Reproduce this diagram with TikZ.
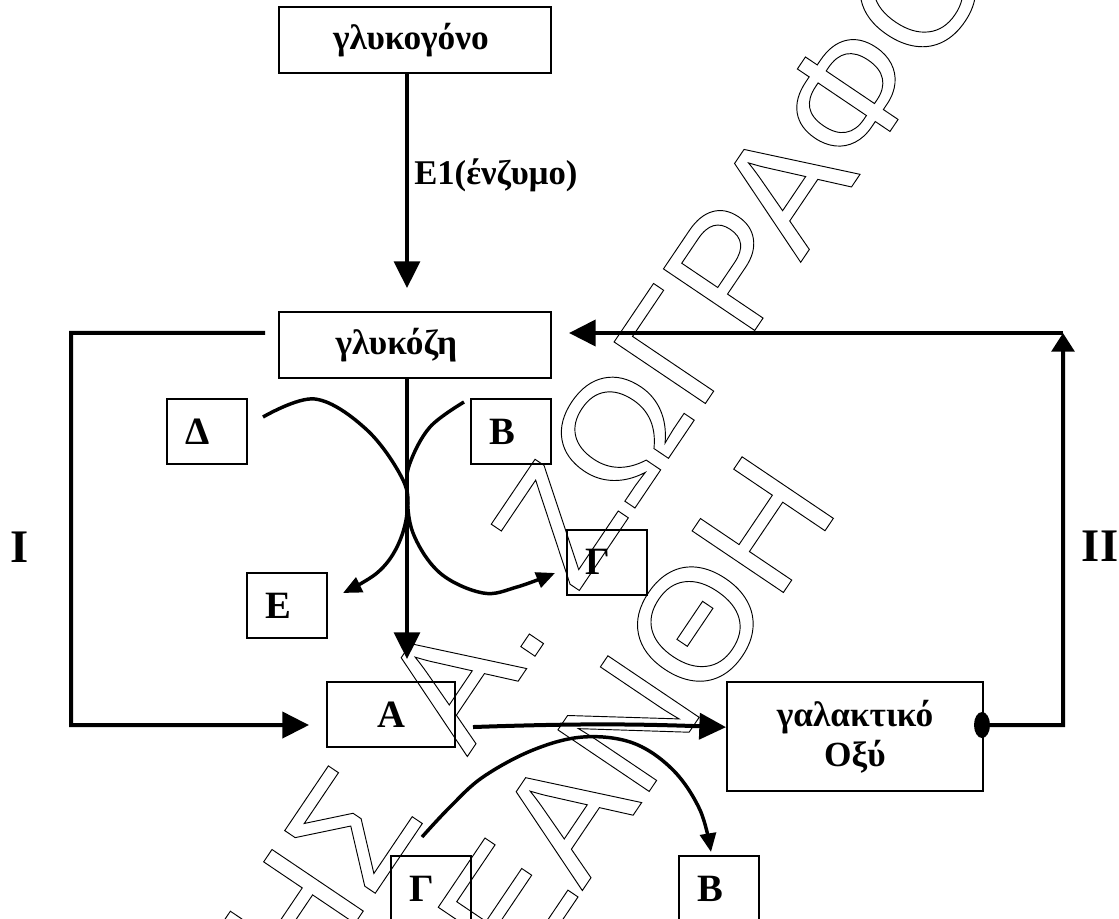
\documentclass[tikz,border=0pt]{standalone}
\usepackage{fontspec}
\setmainfont{Liberation Serif}
\newfontfamily\wmfont{Liberation Sans}
\usetikzlibrary{arrows.meta}
\newcommand\outl[1]{\special{pdf:literal direct 1 Tr 0.7 w}#1\special{pdf:literal direct 0 Tr}}
\tikzset{
  box/.style={draw, line width=1.5pt, inner sep=0pt, align=center,
    font=\bfseries\fontsize{26.5}{30}\selectfont},
  smallbox/.style={box, minimum width=60pt, minimum height=48.75pt,
    font=\bfseries\fontsize{29}{30}\selectfont},
  lbl/.style={inner sep=0pt, font=\bfseries\fontsize{26}{30}\selectfont},
  biglbl/.style={inner sep=0pt, font=\bfseries\fontsize{35}{40}\selectfont},
  wm/.style={inner sep=0pt, font=\wmfont\fontsize{120}{120}\selectfont},
  ln/.style={line width=2.4pt},
  thk/.style={line width=3pt},
  crv/.style={line width=2.6pt},
  bigtip/.tip={Triangle[length=20pt,width=19.5pt]},
  uptip/.tip={Triangle[length=14pt,width=17pt]},
  smalltip/.tip={Triangle[length=14pt,width=12pt]}
}
\begin{document}
\begin{tikzpicture}[x=0.75pt,y=-0.75pt]
\useasboundingbox (0,0) rectangle (1119,919);

% watermark
\node[wm, anchor=base west, rotate=56] (wmA) at (467,757) {\outl{Α. ΖΩΓΡΑΦΟΥ}};
\node[wm, anchor=base east, rotate=56] (wmB) at (426,818) {\outl{ΗΣ}};
\node[wm, anchor=base west, rotate=56] (wmC) at (582,891) {\outl{ΑΝΘΗ}};
\node[wm, anchor=base east, rotate=56] (wmD) at (582,891) {\outl{Ε}};

% boxes
\node[box, minimum width=204pt, minimum height=49.5pt] (gly1) at (415,40) {γλυκογόνο\hspace*{6pt}};
\node[box, minimum width=204pt, minimum height=49.5pt] (gly2) at (415,345) {γλυκόζη\hspace*{28pt}};
\node[smallbox] (D) at (206.5,431.5) {Δ\hspace*{13.5pt}};
\node[smallbox] (B1) at (511,431.5) {Β\hspace*{13.5pt}};
\node[smallbox] (E) at (287,605.5) {Ε\hspace*{13.5pt}};
\node[smallbox] (G1) at (607,562) {Γ\hspace*{13.5pt}};
\node[smallbox, minimum width=96pt] (A) at (391,714.5) {Α};
\node[box, minimum width=192pt, minimum height=81.75pt] (gal) at (855,736.5) {γαλακτικό\\Οξύ};
\node[smallbox] (G2) at (431,888.5) {Γ\hspace*{13.5pt}};
\node[smallbox] (B2) at (719,888.5) {Β\hspace*{13.5pt}};

% labels
\node[lbl, anchor=west] (enz) at (414,175) {Ε1(ένζυμο)};
\node[biglbl] (I) at (20,547) {I};
\node[biglbl] (II) at (1100,546) {II};

% main vertical arrows
\draw[ln, -{bigtip}] ([xshift=-6pt]gly1.south) -- ([xshift=-6pt,yshift=17.25pt]gly2.north);
\draw[ln, -{bigtip}] ([xshift=-6pt]gly2.south) -- ([xshift=12pt,yshift=16.5pt]A.north);

% left route I
\coordinate (L0) at (265,333);
\draw[thk, -{bigtip}] (L0) -- (71,333) -- (71,725) -- ([xshift=-12.75pt,yshift=-7.9pt]A.west);

% right route II
\fill (982,725) ellipse [x radius=6pt, y radius=9.75pt];
\draw[thk, -{uptip}] ([yshift=8.6pt]gal.east) -- (1063,725) -- (1063,333);
\coordinate (R0) at (1063,333);
\draw[thk, -{bigtip}] (R0) -- ([xshift=12.75pt,yshift=9pt]gly2.east);

% A -> galaktiko
\draw[thk, -{bigtip}] ([xshift=12.75pt,yshift=-9.4pt]A.east) to[bend left=2] ([yshift=7pt]gal.west);

% curved reaction arrows
\draw[crv, -{smalltip}] plot[smooth, tension=0.6] coordinates {(263,417) (315,399) (367,430) (403,480) (407,513) (397,547) (377,573) (343,593)};
\draw[crv, -{smalltip}] plot[smooth, tension=0.6] coordinates {(464,402) (430,427) (410,463) (407,490) (413,533) (440,573) (483,593) (517,587) (555,573)};
\draw[crv, -{smalltip}] plot[smooth, tension=0.6] coordinates {(422,837) (450,807) (483,777) (533,750) (583,737) (633,743) (673,770) (700,810) (711,852)};
\end{tikzpicture}
\end{document}
